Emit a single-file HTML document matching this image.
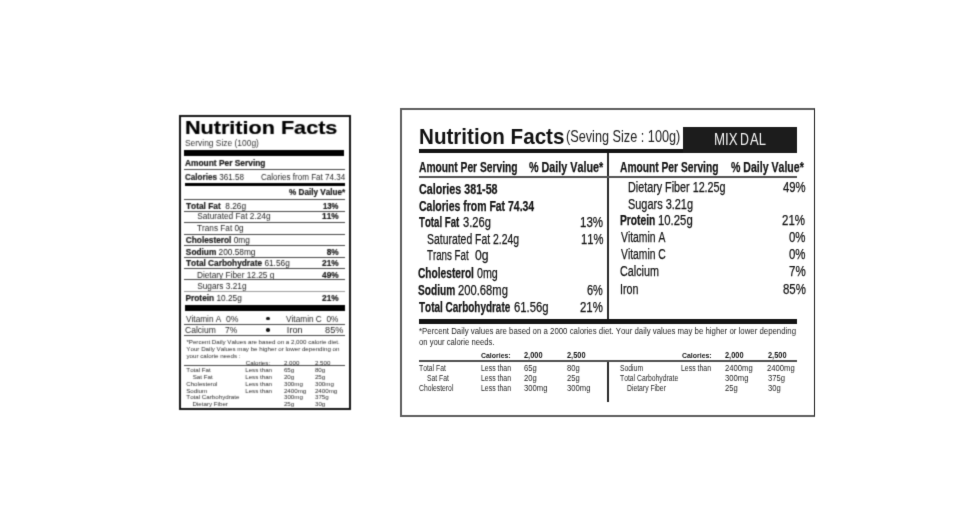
<!DOCTYPE html><html><head><meta charset="utf-8"><style>
html,body{margin:0;padding:0;background:#fff;width:975px;height:525px;overflow:hidden;position:relative}
.t{position:absolute;white-space:pre;font-family:"Liberation Sans",sans-serif;line-height:0;transform-origin:0 0;font-kerning:none}
.r{position:absolute}
b{font-weight:bold}
.g{position:absolute;left:0;top:0;width:975px;height:525px}
.bl b{-webkit-text-stroke:0.2px}
</style></head><body>
<svg width="0" height="0" style="position:absolute"><filter id="bl" x="0" y="0" width="100%" height="100%" color-interpolation-filters="sRGB"><feConvolveMatrix order="3" kernelMatrix="1 4 1 4 16 4 1 4 1" edgeMode="duplicate"/></filter><filter id="bl2" x="0" y="0" width="100%" height="100%" color-interpolation-filters="sRGB"><feConvolveMatrix order="3" kernelMatrix="1 8 1 8 64 8 1 8 1" edgeMode="duplicate"/></filter></svg>
<div class="g bl" style="filter:url(#bl)">
<div class="r" style="left:179px;top:115px;width:172px;height:295px;box-sizing:border-box;border-style:solid;border-width:2px 2px 2px 2px;border-color:#141414 #141414 #141414 #141414"></div>
<div class="t" style="left:184.76px;top:128px;font-size:19px;color:#000;transform:scale(1.1363,1.0000)"><b>Nutrition Facts</b></div>
<div class="t" style="left:185.02px;top:143px;font-size:8.3px;color:#333;transform:scale(1.0139,1.0000)">Serving Size (100g)</div>
<div class="r" style="left:184px;top:150px;width:160px;height:6px;background:#000"></div>
<div class="t" style="left:185.29px;top:163px;font-size:8.3px;color:#1a1a1a;transform:scale(1.0086,1.0000)"><b>Amount Per Serving</b></div>
<div class="r" style="left:184px;top:169px;width:161px;height:1px;background:#454545"></div>
<div class="t" style="left:185.17px;top:177px;font-size:8.3px;color:#262626;transform:scale(0.9758,1.0000)"><b>Calories </b>361.58</div>
<div class="t" style="left:261.09px;top:177px;font-size:8.3px;color:#262626;transform:scale(0.9714,1.0000)">Calories from Fat 74.34</div>
<div class="r" style="left:185px;top:183px;width:160px;height:3px;background:#000"></div>
<div class="t" style="left:289.30px;top:192px;font-size:8.3px;color:#1a1a1a;transform:scale(0.9826,1.0000)"><b>% Daily Value*</b></div>
<div class="r" style="left:184px;top:199px;width:161px;height:1px;background:#454545"></div>
<div class="t" style="left:186.01px;top:206px;font-size:8.3px;color:#1a1a1a;transform:scale(1.0028,1.0000)"><b>Total Fat</b>  8.26g</div>
<div class="t" style="left:323.21px;top:206px;font-size:8.3px;color:#1a1a1a;transform:scale(0.9325,1.0000)"><b>13%</b></div>
<div class="r" style="left:184px;top:211px;width:161px;height:1px;background:#454545"></div>
<div class="t" style="left:197.22px;top:216px;font-size:8.3px;color:#262626">Saturated Fat 2.24g</div>
<div class="t" style="left:322.11px;top:216px;font-size:8.3px;color:#1a1a1a"><b>11%</b></div>
<div class="r" style="left:184px;top:222px;width:161px;height:1px;background:#454545"></div>
<div class="t" style="left:197.42px;top:228px;font-size:8.3px;color:#262626;transform:scale(0.9907,1.0000)">Trans Fat 0g</div>
<div class="r" style="left:184px;top:234px;width:161px;height:1px;background:#454545"></div>
<div class="t" style="left:185.76px;top:240px;font-size:8.3px;color:#1a1a1a"><b>Cholesterol</b> 0mg</div>
<div class="r" style="left:184px;top:245px;width:161px;height:1px;background:#454545"></div>
<div class="t" style="left:185.86px;top:252px;font-size:8.3px;color:#1a1a1a"><b>Sodium</b> 200.58mg</div>
<div class="t" style="left:326.72px;top:252px;font-size:8.3px;color:#1a1a1a"><b>8%</b></div>
<div class="r" style="left:184px;top:257px;width:161px;height:1px;background:#454545"></div>
<div class="t" style="left:186.01px;top:263px;font-size:8.3px;color:#1a1a1a"><b>Total Carbohydrate</b> 61.56g</div>
<div class="t" style="left:322.11px;top:263px;font-size:8.3px;color:#1a1a1a"><b>21%</b></div>
<div class="r" style="left:184px;top:268px;width:161px;height:1px;background:#454545"></div>
<div class="t" style="left:196.92px;top:275px;font-size:8.3px;color:#262626">Dietary Fiber 12.25 g</div>
<div class="t" style="left:322.11px;top:275px;font-size:8.3px;color:#1a1a1a"><b>49%</b></div>
<div class="r" style="left:184px;top:279px;width:161px;height:1px;background:#454545"></div>
<div class="t" style="left:197.22px;top:286px;font-size:8.3px;color:#262626">Sugars 3.21g</div>
<div class="r" style="left:184px;top:291px;width:161px;height:1px;background:#9a9a9a"></div>
<div class="t" style="left:185.54px;top:298px;font-size:8.3px;color:#1a1a1a"><b>Protein</b> 10.25g</div>
<div class="t" style="left:322.11px;top:298px;font-size:8.3px;color:#1a1a1a"><b>21%</b></div>
<div class="r" style="left:185px;top:305px;width:160px;height:6px;background:#000"></div>
<div class="t" style="left:185.66px;top:319px;font-size:9.2px;color:#262626;transform:scale(0.8980,1.0000)">Vitamin A</div>
<div class="t" style="left:225.56px;top:319px;font-size:9.2px;color:#262626;transform:scale(0.9437,1.0000)">0%</div>
<div class="t" style="left:286.46px;top:319px;font-size:9.2px;color:#262626;transform:scale(0.8996,1.0000)">Vitamin C  0%</div>
<div class="r" style="left:184px;top:324px;width:161px;height:1px;background:#454545"></div>
<div class="t" style="left:185.27px;top:330px;font-size:9.2px;color:#262626;transform:scale(0.9299,1.0000)">Calcium</div>
<div class="t" style="left:224.67px;top:330px;font-size:9.2px;color:#262626;transform:scale(0.9202,1.0000)">7%</div>
<div class="t" style="left:286.85px;top:330px;font-size:9.2px;color:#262626">Iron</div>
<div class="t" style="left:325.11px;top:330px;font-size:9.2px;color:#262626">85%</div>
<div class="r" style="left:184px;top:335px;width:161px;height:1px;background:#454545"></div>
<div class="r" style="left:266.40px;top:316.50px;width:3.40px;height:3.40px;border-radius:50%;background:#111"></div>
<div class="r" style="left:266.40px;top:328.20px;width:3.40px;height:3.40px;border-radius:50%;background:#111"></div>
<div class="t" style="left:186.40px;top:342px;font-size:6.2px;color:#2a2a2a">*Percent Daily Values are based on a 2,000 calorie diet.</div>
<div class="t" style="left:186.36px;top:349px;font-size:6.2px;color:#2a2a2a">Your Daily Values may be higher or lower depending on</div>
<div class="t" style="left:186.48px;top:356px;font-size:6.2px;color:#2a2a2a">your calorie needs :</div>
<div class="t" style="left:245.69px;top:363px;font-size:6.2px;color:#2a2a2a">Calories:</div>
<div class="t" style="left:283.89px;top:363px;font-size:6.2px;color:#2a2a2a">2,000</div>
<div class="t" style="left:314.89px;top:363px;font-size:6.2px;color:#2a2a2a">2,500</div>
<div class="r" style="left:184px;top:365px;width:161px;height:1px;background:#454545"></div>
<div class="t" style="left:186.36px;top:370px;font-size:6.2px;color:#2a2a2a">Total Fat</div>
<div class="t" style="left:245.19px;top:370px;font-size:6.2px;color:#2a2a2a">Less than</div>
<div class="t" style="left:283.89px;top:370px;font-size:6.2px;color:#2a2a2a">65g</div>
<div class="t" style="left:314.93px;top:370px;font-size:6.2px;color:#2a2a2a">80g</div>
<div class="t" style="left:192.72px;top:377px;font-size:6.2px;color:#2a2a2a">Sat Fat</div>
<div class="t" style="left:245.19px;top:377px;font-size:6.2px;color:#2a2a2a">Less than</div>
<div class="t" style="left:283.89px;top:377px;font-size:6.2px;color:#2a2a2a">20g</div>
<div class="t" style="left:314.89px;top:377px;font-size:6.2px;color:#2a2a2a">25g</div>
<div class="t" style="left:186.19px;top:384px;font-size:6.2px;color:#2a2a2a">Cholesterol</div>
<div class="t" style="left:245.19px;top:384px;font-size:6.2px;color:#2a2a2a">Less than</div>
<div class="t" style="left:283.96px;top:384px;font-size:6.2px;color:#2a2a2a">300mg</div>
<div class="t" style="left:314.96px;top:384px;font-size:6.2px;color:#2a2a2a">300mg</div>
<div class="t" style="left:186.22px;top:391px;font-size:6.2px;color:#2a2a2a">Sodium</div>
<div class="t" style="left:245.19px;top:391px;font-size:6.2px;color:#2a2a2a">Less than</div>
<div class="t" style="left:283.89px;top:391px;font-size:6.2px;color:#2a2a2a">2400mg</div>
<div class="t" style="left:314.89px;top:391px;font-size:6.2px;color:#2a2a2a">2400mg</div>
<div class="t" style="left:186.36px;top:397px;font-size:6.2px;color:#2a2a2a">Total Carbohydrate</div>
<div class="t" style="left:283.96px;top:397px;font-size:6.2px;color:#2a2a2a">300mg</div>
<div class="t" style="left:314.96px;top:397px;font-size:6.2px;color:#2a2a2a">375g</div>
<div class="t" style="left:192.49px;top:404px;font-size:6.2px;color:#2a2a2a">Dietary Fiber</div>
<div class="t" style="left:283.89px;top:404px;font-size:6.2px;color:#2a2a2a">25g</div>
<div class="t" style="left:314.96px;top:404px;font-size:6.2px;color:#2a2a2a">30g</div>
</div>
<div class="g bl2" style="filter:url(#bl2)">
<div class="r" style="left:400px;top:108px;width:415px;height:309px;box-sizing:border-box;border-style:solid;border-width:2px 1.5px 2px 2px;border-color:#5e5e5e #1a1a1a #5e5e5e #5e5e5e"></div>
<div class="t" style="left:418.82px;top:137px;font-size:22.5px;color:#111;transform:scale(0.9160,1.0000)"><b>Nutrition Facts</b></div>
<div class="t" style="left:565.81px;top:136px;font-size:16.2px;color:#222;transform:scale(0.7840,1.0000)">(Seving Size : 100g)</div>
<div class="r" style="left:419px;top:149.3px;width:378px;height:4.1px;background:#141414"></div>
<div class="r" style="left:683px;top:126.8px;width:113.7px;height:26.4px;background:#1c1c1c"></div>
<div class="t" style="left:713.61px;top:140px;font-size:16.7px;color:#f4f4f4;transform:scale(0.7973,1.0000)">MIX</div>
<div class="t" style="left:739.99px;top:140px;font-size:16.7px;color:#f4f4f4;transform:scale(0.7380,1.0000)">D</div>
<div class="t" style="left:749.57px;top:140px;font-size:16.7px;color:#f4f4f4;transform:scale(0.7762,1.0000)">AL</div>
<div class="r" style="left:607px;top:153px;width:1.5px;height:166.5px;background:#2a2a2a"></div>
<div class="t" style="left:419.04px;top:167px;font-size:14px;color:#141414;transform:scale(0.7322,1.0000);-webkit-text-stroke:0.25px #141414"><b>Amount Per Serving</b></div>
<div class="t" style="left:529.23px;top:167px;font-size:14px;color:#141414;transform:scale(0.7698,1.0000);-webkit-text-stroke:0.25px #141414"><b>% Daily Value*</b></div>
<div class="t" style="left:620.24px;top:167px;font-size:14px;color:#141414;transform:scale(0.7315,1.0000);-webkit-text-stroke:0.25px #141414"><b>Amount Per Serving</b></div>
<div class="t" style="left:730.74px;top:167px;font-size:14px;color:#141414;transform:scale(0.7542,1.0000);-webkit-text-stroke:0.25px #141414"><b>% Daily Value*</b></div>
<div class="r" style="left:419px;top:176.3px;width:378px;height:1.8px;background:#555"></div>
<div class="t" style="left:418.56px;top:189px;font-size:14px;color:#141414;transform:scale(0.7648,1.0000);-webkit-text-stroke:0.25px #141414"><b>Calories 381-58</b></div>
<div class="t" style="left:418.57px;top:206px;font-size:14px;color:#141414;transform:scale(0.7477,1.0000);-webkit-text-stroke:0.25px #141414"><b>Calories from Fat 74.34</b></div>
<div class="t" style="left:418.89px;top:222px;font-size:14px;color:#141414;transform:scale(0.6896,1.0000);-webkit-text-stroke:0.25px #141414"><b>Total Fat</b></div>
<div class="t" style="left:462.58px;top:222px;font-size:14px;color:#141414;transform:scale(0.7947,1.0000);-webkit-text-stroke:0.25px #141414">3.26g</div>
<div class="t" style="left:427.23px;top:239px;font-size:14px;color:#141414;transform:scale(0.7446,1.0000);-webkit-text-stroke:0.25px #141414">Saturated Fat 2.24g</div>
<div class="t" style="left:427.48px;top:255px;font-size:14px;color:#141414;transform:scale(0.6943,1.0000);-webkit-text-stroke:0.25px #141414">Trans Fat</div>
<div class="t" style="left:475.22px;top:255px;font-size:14px;color:#141414;transform:scale(0.8709,1.0000);-webkit-text-stroke:0.25px #141414">0g</div>
<div class="t" style="left:418.28px;top:273px;font-size:14px;color:#141414;transform:scale(0.7263,1.0000);-webkit-text-stroke:0.25px #141414"><b>Cholesterol</b></div>
<div class="t" style="left:477.38px;top:273px;font-size:14px;color:#141414;transform:scale(0.7640,1.0000);-webkit-text-stroke:0.25px #141414">0mg</div>
<div class="t" style="left:418.41px;top:290px;font-size:14px;color:#141414;transform:scale(0.7251,1.0000);-webkit-text-stroke:0.25px #141414"><b>Sodium</b></div>
<div class="t" style="left:458.14px;top:290px;font-size:14px;color:#141414;transform:scale(0.8012,1.0000);-webkit-text-stroke:0.25px #141414">200.68mg</div>
<div class="t" style="left:419.19px;top:307px;font-size:14px;color:#141414;transform:scale(0.7110,1.0000);-webkit-text-stroke:0.25px #141414"><b>Total Carbohydrate</b></div>
<div class="t" style="left:513.53px;top:307px;font-size:14px;color:#141414;transform:scale(0.8057,1.0000);-webkit-text-stroke:0.25px #141414">61.56g</div>
<div class="t" style="left:580.22px;top:222px;font-size:14px;color:#141414;transform:scale(0.8240,1.0000);-webkit-text-stroke:0.25px #141414">13%</div>
<div class="t" style="left:580.85px;top:239px;font-size:14px;color:#141414;transform:scale(0.8014,1.0000);-webkit-text-stroke:0.25px #141414">11%</div>
<div class="t" style="left:587.44px;top:290px;font-size:14px;color:#141414;transform:scale(0.7832,1.0000);-webkit-text-stroke:0.25px #141414">6%</div>
<div class="t" style="left:580.43px;top:307px;font-size:14px;color:#141414;transform:scale(0.8166,1.0000);-webkit-text-stroke:0.25px #141414">21%</div>
<div class="t" style="left:627.82px;top:187px;font-size:14px;color:#141414;transform:scale(0.7693,1.0000);-webkit-text-stroke:0.25px #141414">Dietary Fiber 12.25g</div>
<div class="t" style="left:628.20px;top:204px;font-size:14px;color:#141414;transform:scale(0.7805,1.0000);-webkit-text-stroke:0.25px #141414">Sugars 3.21g</div>
<div class="t" style="left:619.91px;top:220px;font-size:14px;color:#141414;transform:scale(0.7324,1.0000);-webkit-text-stroke:0.25px #141414"><b>Protein</b></div>
<div class="t" style="left:658.04px;top:220px;font-size:14px;color:#141414;transform:scale(0.8103,1.0000);-webkit-text-stroke:0.25px #141414">10.25g</div>
<div class="t" style="left:620.55px;top:237px;font-size:14px;color:#141414;transform:scale(0.7405,1.0000);-webkit-text-stroke:0.25px #141414">Vitamin A</div>
<div class="t" style="left:620.55px;top:254px;font-size:14px;color:#141414;transform:scale(0.7373,1.0000);-webkit-text-stroke:0.25px #141414">Vitamin C</div>
<div class="t" style="left:620.05px;top:271px;font-size:14px;color:#141414;transform:scale(0.7705,1.0000);-webkit-text-stroke:0.25px #141414">Calcium</div>
<div class="t" style="left:619.61px;top:289px;font-size:14px;color:#141414;transform:scale(0.7663,1.0000);-webkit-text-stroke:0.25px #141414">Iron</div>
<div class="t" style="left:782.74px;top:187px;font-size:14px;color:#141414;transform:scale(0.8088,1.0000);-webkit-text-stroke:0.25px #141414">49%</div>
<div class="t" style="left:782.42px;top:220px;font-size:14px;color:#141414;transform:scale(0.8204,1.0000);-webkit-text-stroke:0.25px #141414">21%</div>
<div class="t" style="left:788.85px;top:237px;font-size:14px;color:#141414;transform:scale(0.8182,1.0000);-webkit-text-stroke:0.25px #141414">0%</div>
<div class="t" style="left:788.85px;top:254px;font-size:14px;color:#141414;transform:scale(0.8182,1.0000);-webkit-text-stroke:0.25px #141414">0%</div>
<div class="t" style="left:788.71px;top:271px;font-size:14px;color:#141414;transform:scale(0.8256,1.0000);-webkit-text-stroke:0.25px #141414">7%</div>
<div class="t" style="left:782.50px;top:289px;font-size:14px;color:#141414;transform:scale(0.8174,1.0000);-webkit-text-stroke:0.25px #141414">85%</div>
<div class="r" style="left:419px;top:319.3px;width:378px;height:4.3px;background:#141414"></div>
<div class="t" style="left:419.37px;top:331px;font-size:9.5px;color:#1c1c1c;transform:scale(0.8244,1.0000)">*Percent Daily values are based on a 2000 calories diet. Your daily values may be higher or lower depending</div>
<div class="t" style="left:419.18px;top:342px;font-size:9.5px;color:#1c1c1c;transform:scale(0.8080,1.0000)">on your calorie needs.</div>
<div class="t" style="left:480.82px;top:356px;font-size:8px;color:#141414;transform:scale(0.8661,1.0000)"><b>Calories:</b></div>
<div class="t" style="left:523.84px;top:355px;font-size:8.5px;color:#141414;transform:scale(0.8700,1.0000)"><b>2,000</b></div>
<div class="t" style="left:566.64px;top:355px;font-size:8.5px;color:#141414;transform:scale(0.8700,1.0000)"><b>2,500</b></div>
<div class="t" style="left:681.72px;top:356px;font-size:8px;color:#141414;transform:scale(0.8661,1.0000)"><b>Calories:</b></div>
<div class="t" style="left:724.74px;top:355px;font-size:8.5px;color:#141414;transform:scale(0.8700,1.0000)"><b>2,000</b></div>
<div class="t" style="left:767.54px;top:355px;font-size:8.5px;color:#141414;transform:scale(0.8700,1.0000)"><b>2,500</b></div>
<div class="r" style="left:419px;top:360.3px;width:378px;height:1.6px;background:#505050"></div>
<div class="r" style="left:607px;top:362px;width:1.5px;height:40px;background:#2a2a2a"></div>
<div class="t" style="left:419.15px;top:368px;font-size:8.5px;color:#1e1e1e;transform:scale(0.8000,1.0000)">Total Fat</div>
<div class="t" style="left:480.53px;top:368px;font-size:8.5px;color:#1e1e1e;transform:scale(0.8144,1.0000)">Less than</div>
<div class="t" style="left:523.61px;top:368px;font-size:8.5px;color:#1e1e1e;transform:scale(0.9000,1.0000)">65g</div>
<div class="t" style="left:566.57px;top:368px;font-size:8.5px;color:#1e1e1e;transform:scale(0.9000,1.0000)">80g</div>
<div class="t" style="left:426.99px;top:378px;font-size:8.5px;color:#1e1e1e;transform:scale(0.8000,1.0000)">Sat Fat</div>
<div class="t" style="left:480.53px;top:378px;font-size:8.5px;color:#1e1e1e;transform:scale(0.8144,1.0000)">Less than</div>
<div class="t" style="left:523.62px;top:378px;font-size:8.5px;color:#1e1e1e;transform:scale(0.9000,1.0000)">20g</div>
<div class="t" style="left:566.52px;top:378px;font-size:8.5px;color:#1e1e1e;transform:scale(0.9000,1.0000)">25g</div>
<div class="t" style="left:418.95px;top:388px;font-size:8.5px;color:#1e1e1e;transform:scale(0.8000,1.0000)">Cholesterol</div>
<div class="t" style="left:480.53px;top:388px;font-size:8.5px;color:#1e1e1e;transform:scale(0.8144,1.0000)">Less than</div>
<div class="t" style="left:523.71px;top:388px;font-size:8.5px;color:#1e1e1e;transform:scale(0.9000,1.0000)">300mg</div>
<div class="t" style="left:566.61px;top:388px;font-size:8.5px;color:#1e1e1e;transform:scale(0.9000,1.0000)">300mg</div>
<div class="t" style="left:619.59px;top:368px;font-size:8.5px;color:#1e1e1e;transform:scale(0.8000,1.0000)">Sodium</div>
<div class="t" style="left:681.43px;top:368px;font-size:8.5px;color:#1e1e1e;transform:scale(0.8144,1.0000)">Less than</div>
<div class="t" style="left:724.52px;top:368px;font-size:8.5px;color:#1e1e1e;transform:scale(0.9000,1.0000)">2400mg</div>
<div class="t" style="left:767.42px;top:368px;font-size:8.5px;color:#1e1e1e;transform:scale(0.9000,1.0000)">2400mg</div>
<div class="t" style="left:619.75px;top:378px;font-size:8.5px;color:#1e1e1e;transform:scale(0.8000,1.0000)">Total Carbohydrate</div>
<div class="t" style="left:724.61px;top:378px;font-size:8.5px;color:#1e1e1e;transform:scale(0.9000,1.0000)">300mg</div>
<div class="t" style="left:767.51px;top:378px;font-size:8.5px;color:#1e1e1e;transform:scale(0.9000,1.0000)">375g</div>
<div class="t" style="left:627.34px;top:388px;font-size:8.5px;color:#1e1e1e;transform:scale(0.8000,1.0000)">Dietary Fiber</div>
<div class="t" style="left:724.52px;top:388px;font-size:8.5px;color:#1e1e1e;transform:scale(0.9000,1.0000)">25g</div>
<div class="t" style="left:767.51px;top:388px;font-size:8.5px;color:#1e1e1e;transform:scale(0.9000,1.0000)">30g</div>
</div>
</body></html>
